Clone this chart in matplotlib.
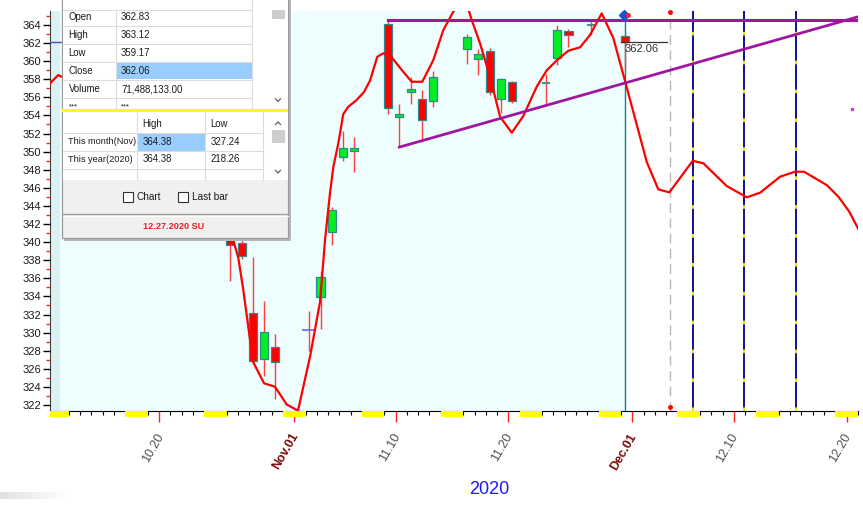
import matplotlib
matplotlib.use('Agg')
import matplotlib.pyplot as plt
import matplotlib.transforms as mtrans
from matplotlib.patches import Rectangle
from matplotlib.colors import LinearSegmentedColormap
import numpy as np
import pandas as pd

plt.rcParams['font.family'] = ['Liberation Sans', 'DejaVu Sans']

# ---------------- data ----------------
base = pd.Timestamp('2020-10-20')
dates = ['2020-10-26', '2020-10-27', '2020-10-28', '2020-10-29', '2020-10-30',
         '2020-11-02', '2020-11-03', '2020-11-04', '2020-11-05', '2020-11-06',
         '2020-11-09', '2020-11-10', '2020-11-11', '2020-11-12', '2020-11-13',
         '2020-11-16', '2020-11-17', '2020-11-18', '2020-11-19', '2020-11-20',
         '2020-11-23', '2020-11-24', '2020-11-25', '2020-11-27', '2020-11-30']
opens = [341.3, 339.9, 332.2, 327.1, 328.4,
         330.3, 333.9, 341.1, 349.4, 350.1,
         364.1, 353.8, 356.6, 355.8, 355.6,
         361.3, 360.2, 361.1, 355.8, 357.7,
         357.6, 360.4, 363.3, 364.0, 362.83]
highs = [341.8, 340.3, 338.4, 333.5, 329.8,
         332.4, 336.8, 343.9, 352.3, 351.6,
         364.5, 355.3, 358.3, 356.8, 358.9,
         363.0, 361.3, 361.5, 358.1, 357.8,
         358.6, 364.0, 363.6, 364.4, 363.12]
lows = [335.7, 338.1, 326.6, 325.2, 322.7,
        328.0, 330.4, 339.7, 349.0, 347.8,
        354.2, 350.5, 355.3, 351.1, 354.9,
        359.7, 358.5, 356.3, 354.3, 355.4,
        355.15, 359.6, 361.6, 362.9, 359.17]
closes = [339.7, 338.5, 326.9, 330.1, 326.7,
          330.3, 336.1, 343.6, 350.4, 350.4,
          354.8, 354.2, 356.9, 353.5, 358.3,
          362.7, 360.8, 356.6, 358.0, 355.55,
          357.6, 363.4, 362.85, 364.0, 362.06]

curve_day = [-9.67, -8.94, -5.0, 0.0, 4.0, 6.59, 7.04, 7.48, 7.92, 8.34,
             9.32, 10.29, 11.33, 12.33, 13.40, 14.29, 14.73, 15.17, 15.47, 15.91,
             16.35, 16.77, 17.53, 18.19, 18.72, 19.37, 19.90, 20.65, 21.54, 22.42,
             23.36, 24.34, 25.23, 26.11, 26.6, 27.3, 27.75, 28.48, 29.37, 30.26,
             31.30, 32.32, 33.51, 34.40, 35.32, 36.32, 37.36, 38.24, 39.28, 40.31,
             41.35, 43.27, 44.30, 45.28, 47.36, 48.30, 50.37, 52.15, 53.33, 55.11,
             56.43, 57.23, 59.24, 60.28, 61.25, 62.05]
curve_val = [357.55, 358.46, 356.0, 352.0, 346.0, 340.23, 338.24, 334.71, 330.65, 326.78,
             324.40, 324.02, 322.06, 321.37, 327.34, 333.41, 340.23, 345.39, 348.33, 350.92,
             354.15, 354.93, 355.70, 356.59, 357.84, 360.49, 360.86, 360.42, 359.02, 357.72,
             357.72, 360.12, 363.44, 365.46, 366.3, 366.3, 364.54, 361.97, 358.28, 353.86,
             352.09, 353.93, 357.17, 358.98, 360.12, 361.15, 361.53, 362.88, 365.28, 362.55,
             357.80, 348.88, 345.83, 345.50, 348.99, 348.71, 346.20, 344.95, 345.46, 347.23,
             347.78, 347.78, 346.31, 345.02, 343.36, 341.45]

xtick_dates = ['2020-10-20', '2020-11-01', '2020-11-10', '2020-11-20',
               '2020-12-01', '2020-12-10', '2020-12-20']
xtick_labels = ['10.20', 'Nov.01', '11.10', '11.20', 'Dec.01', '12.10', '12.20']
month_labels = ['Nov.01', 'Dec.01']
year_label = '2020'

info_rows = [('Open', '362.83'), ('High', '363.12'), ('Low', '359.17'),
             ('Close', '362.06'), ('Volume', '71,488,133.00'), ('***', '***')]
range_header = ['High', 'Low']
range_rows = [('This month(Nov)', '364.38', '327.24'),
              ('This year(2020)', '364.38', '218.26')]
check_labels = ['Chart', 'Last bar']
status_text = '12.27.2020 SU'

last_close = 362.06
resist_level = 364.6
resist_start = '2020-11-09'
trend_dates = ['2020-11-10', '2020-11-23']
trend_vals = [350.5, 355.1]
marker_date = '2020-12-04'
cycle_days = [47.35, 51.93, 56.5]
left_blue_level = 362.1

# ---------------- figure ----------------
W, H = 863, 508
fig = plt.figure(figsize=(W / 100, H / 100), dpi=100)
ax = fig.add_axes([50 / W, 1 - 411 / H, 808 / W, 400 / H])
xl, xr = -9.672, 62.02
yb, yt = 321.34, 365.54
ax.set_xlim(xl, xr)
ax.set_ylim(yb, yt)
ax.set_facecolor('white')

def dnum(s):
    return (pd.Timestamp(s) - base).days

off = 0.33
xs = [dnum(d) + off for d in dates]
last_x = xs[-1]

# background (history area)
ax.add_patch(Rectangle((xl, yb), last_x - xl, yt - yb, facecolor='#EEFEFE',
                       edgecolor='none', zorder=0))
ax.add_patch(Rectangle((xl, yb), 0.9, yt - yb, facecolor='#DCF2F2',
                       edgecolor='none', zorder=0.1))

for s in ['top', 'right']:
    ax.spines[s].set_visible(False)
ax.spines['left'].set_color('#404040')
ax.spines['bottom'].set_color('black')
ax.spines['left'].set_zorder(1)

# y ticks
ax.set_yticks(np.arange(322, 366, 2))
ax.set_yticks(np.arange(323, 366, 2), minor=True)
ax.tick_params(axis='y', which='major', length=5, width=1, color='black',
               labelsize=8, labelcolor='#1a1a1a', pad=1.5)
ax.tick_params(axis='y', which='minor', length=3, width=1, color='#E03030')

# x ticks
tick_pos = [dnum(d) for d in xtick_dates]
ax.set_xticks(tick_pos)
ax.set_xticks(np.arange(int(np.ceil(xl)), int(xr) + 1), minor=True)
ax.tick_params(axis='x', which='major', length=8, width=1, color='#FF2020',
               labelbottom=False)
ax.tick_params(axis='x', which='minor', length=3, width=0.8, color='black')
for t, lab in zip(ax.xaxis.get_major_ticks(), xtick_labels):
    if lab == 'Dec.01':
        t.tick1line.set_color('#F08080')

bt = mtrans.blended_transform_factory(ax.transData, ax.transAxes)
for p, lab in zip(tick_pos, xtick_labels):
    if lab in month_labels:
        kw = dict(color='#7A0A0A', fontweight='bold', fontsize=9)
    else:
        kw = dict(color='#505050', fontsize=9)
    ax.annotate(lab, xy=(p, 0), xycoords=bt, xytext=(7, -20),
                textcoords='offset pixels', rotation=60, ha='right', va='top', **kw)

# weekends (yellow blocks under axis)
sat = pd.Timestamp('2020-10-10')
while dnum(sat) < xr:
    a = max(dnum(sat), xl)
    b = min(dnum(sat) + 2, xr)
    ax.add_patch(Rectangle((a, -0.015), b - a, 0.015, transform=bt,
                           facecolor='#FFFF00', edgecolor='none', clip_on=False, zorder=3))
    sat += pd.Timedelta(days=7)

# vertical lines
ax.axvline(last_x, color='#008B8B', lw=1, zorder=2)
mx = dnum(marker_date) + off
ax.axvline(mx, color='#B8B8B8', lw=1, dashes=(7, 4), zorder=2)
ax.plot([mx, mx], [365.45, 321.75], 'o', color='red', ms=2.5, zorder=6, clip_on=False)
for c in cycle_days:
    ax.axvline(c, color='#000080', lw=1.3, zorder=2)
    ax.axvline(c, color='#FFFF00', lw=1.3, dashes=(2, 14), zorder=2.1)

# left blue line
ax.plot([xl, xl + 2], [left_blue_level, left_blue_level], color='#5050C0', lw=1, zorder=3)

# candles
bw = 0.72
for x, o, h, l, c in zip(xs, opens, highs, lows, closes):
    ax.vlines(x, l, h, color='#FF4040', lw=1, zorder=3)
    if c > o:
        ax.add_patch(Rectangle((x - bw / 2, o), bw, c - o, facecolor='#00EE22',
                               edgecolor='#2E8B8B', lw=0.9, zorder=4))
    elif c < o:
        ax.add_patch(Rectangle((x - bw / 2, c), bw, o - c, facecolor='#FF0000',
                               edgecolor='#2E8B8B', lw=0.9, zorder=4))
    else:
        if x < 20:
            ax.hlines(o, x - 0.65, x + 0.6, color='#7070F0', lw=1.3, zorder=4)
        else:
            ax.hlines(o, x - bw / 2, x + bw / 2, color='#2E8B8B', lw=1.3, zorder=4)

# red curve
ax.plot(curve_day, curve_val, color='#FF0000', lw=1.6, zorder=5, solid_joinstyle='round')

# purple lines
rx = dnum(resist_start) + off
ax.plot([rx, xr], [resist_level, resist_level], color='#A0179F', lw=2.2, zorder=5)
tx = [dnum(d) + off for d in trend_dates]
slope = (trend_vals[1] - trend_vals[0]) / (tx[1] - tx[0])
ax.plot([tx[0], xr], [trend_vals[0], trend_vals[0] + slope * (xr - tx[0])],
        color='#A0179F', lw=2.0, zorder=5)
ax.plot([61.47], [354.67], 's', color='#C040C0', ms=1.5, zorder=5)

# last close marker
ax.plot([last_x - 0.33, last_x + 3.7], [last_close, last_close], color='#333333', lw=0.9, zorder=5)
ax.text(last_x + 0.0, last_close - 0.12, f'{last_close:.2f}', fontsize=8,
        color='#333333', ha='left', va='top', zorder=6)
ax.plot([last_x - 0.1], [365.1], marker='D', color='#2050D0', ms=5, zorder=7, clip_on=False)
ax.plot([last_x + 0.25], [365.1], marker='o', color='#FF2020', ms=2.5, zorder=7, clip_on=False)

fig.text(489 / W, 1 - 490 / H, year_label, color='#1A1AFF', fontsize=13,
         ha='center', va='center')

# ---------------- overlay panel ----------------
ov = fig.add_axes([0, 0, 1, 1])
ov.set_xlim(0, W)
ov.set_ylim(H, 0)
ov.axis('off')
ov.patch.set_alpha(0)

grad = LinearSegmentedColormap.from_list('g', ['#FFFFFF', '#E2E2E2'])
ov.imshow(np.linspace(1, 0, 60)[None, :], extent=[0, 70, 499, 492], cmap=grad,
          aspect='auto', zorder=1)

ov.add_patch(Rectangle((63.5, 0), 227, 240.5, facecolor='#B8B8B8', edgecolor='none', zorder=2))
ov.add_patch(Rectangle((61.7, -1), 226.3, 239.3, facecolor='#F0F0F0',
                       edgecolor='#9A9A9A', lw=0.9, zorder=3))
# top table
ov.add_patch(Rectangle((62.5, 0), 225, 109.5, facecolor='white', edgecolor='none', zorder=4))
ov.add_patch(Rectangle((116, 61.9), 136.3, 17.6, facecolor='#99CCFF', edgecolor='none', zorder=4.5))
for yy in [10.3, 25.7, 43.7, 61.7, 79.7, 97.7]:
    ov.plot([62.5, 252.3], [yy, yy], color='#DCDCDC', lw=0.8, zorder=5)
ov.plot([115.7, 115.7], [10.3, 109.5], color='#DCDCDC', lw=0.8, zorder=5)
ov.plot([252.3, 252.3], [0, 109.5], color='#DCDCDC', lw=0.8, zorder=5)
for i, (lab, val) in enumerate(info_rows):
    yc = 17.0 + 18 * i
    fs = 6.9 if lab != '***' else 5.5
    ov.text(68.5, yc, lab, fontsize=fs, color='#1a1a1a', va='center', ha='left', zorder=6)
    ov.text(121.0, yc, val, fontsize=fs, color='#1a1a1a', va='center', ha='left', zorder=6)
ov.add_patch(Rectangle((271.7, 10), 13.3, 9.3, facecolor='#CDCDCD', edgecolor='none', zorder=5))
ov.plot([275.5, 278, 280.5], [98.8, 101.5, 98.8], color='#606060', lw=0.9, zorder=6)
# yellow separator
ov.add_patch(Rectangle((62, 109.3), 225.8, 2.6, facecolor='#FFFF00', edgecolor='none', zorder=5))
# second table
ov.add_patch(Rectangle((62.5, 112), 225, 68, facecolor='white', edgecolor='none', zorder=4))
ov.add_patch(Rectangle((136.7, 132.7), 68.3, 18, facecolor='#99CCFF', edgecolor='none', zorder=4.5))
for yy in [132.7, 150.7, 168.5]:
    ov.plot([62.5, 263.3], [yy, yy], color='#DCDCDC', lw=0.8, zorder=5)
for xx in [136.7, 205, 263.3]:
    ov.plot([xx, xx], [112, 180], color='#DCDCDC', lw=0.8, zorder=5)
ov.text(142.5, 123.7, range_header[0], fontsize=6.9, color='#1a1a1a', va='center', zorder=6)
ov.text(210.7, 123.7, range_header[1], fontsize=6.9, color='#1a1a1a', va='center', zorder=6)
for i, (lab, hi, lo) in enumerate(range_rows):
    yc = 141.7 + 17.8 * i
    ov.text(68.0, yc, lab, fontsize=6.6, color='#1a1a1a', va='center', zorder=6)
    ov.text(142.5, yc, hi, fontsize=6.9, color='#1a1a1a', va='center', zorder=6)
    ov.text(210.7, yc, lo, fontsize=6.9, color='#1a1a1a', va='center', zorder=6)
ov.plot([275.5, 278, 280.5], [124.5, 121.8, 124.5], color='#606060', lw=0.9, zorder=6)
ov.add_patch(Rectangle((271.7, 130), 13.3, 13.3, facecolor='#CDCDCD', edgecolor='none', zorder=5))
ov.plot([275.5, 278, 280.5], [170.3, 173, 170.3], color='#606060', lw=0.9, zorder=6)
# checkboxes
for bx, tx_, lab in [(123.3, 136.5, check_labels[0]), (178.3, 191.5, check_labels[1])]:
    ov.add_patch(Rectangle((bx, 191.7), 10, 10, facecolor='white', edgecolor='#333333',
                           lw=0.8, zorder=6))
    ov.text(tx_, 196.7, lab, fontsize=7.2, color='#1a1a1a', va='center', zorder=6)
# separator + status
ov.plot([62.5, 287.5], [214.3, 214.3], color='#A0A0A0', lw=1, zorder=6)
ov.plot([62.5, 287.5], [215.6, 215.6], color='white', lw=0.8, zorder=6)
ov.text(174, 226.7, status_text, fontsize=6.6, color='#E82020', fontweight='bold',
        ha='center', va='center', zorder=6)
ov.set_xlim(0, W)
ov.set_ylim(H, 0)

fig.savefig('out.png', dpi=100)
